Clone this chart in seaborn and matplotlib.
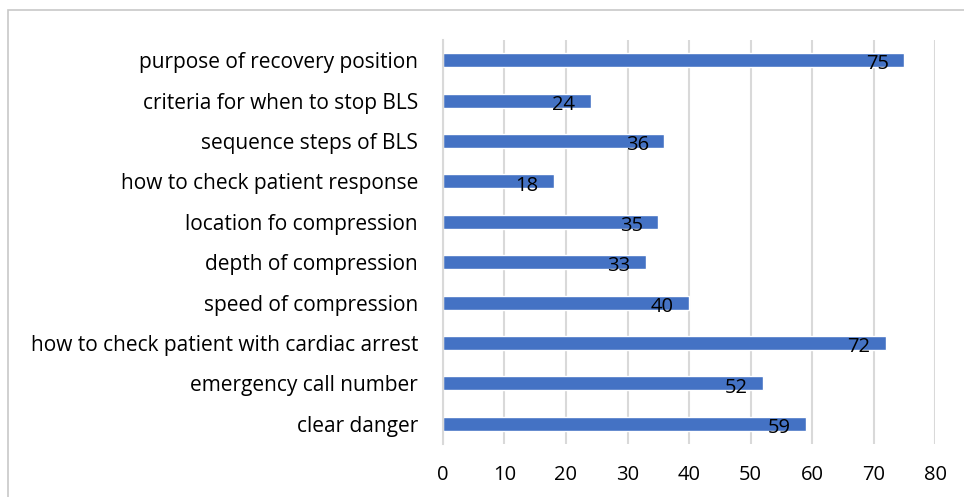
import matplotlib
matplotlib.use("Agg")
import matplotlib.pyplot as plt
import seaborn as sns
import pandas as pd
from matplotlib.patches import Rectangle

topics = [
    "purpose of recovery position",
    "criteria for when to stop BLS",
    "sequence steps of BLS",
    "how to check patient response",
    "location fo compression",
    "depth of compression",
    "speed of compression",
    "how to check patient with cardiac arrest",
    "emergency call number",
    "clear danger",
]
scores = [75, 24, 36, 18, 35, 33, 40, 72, 52, 59]
x_ticks = [0, 10, 20, 30, 40, 50, 60, 70, 80]

df = pd.DataFrame({"topic": topics, "score": scores})

sns.set_style("white")
plt.rcParams["font.family"] = ["Open Sans", "DejaVu Sans"]

fig = plt.figure(figsize=(9.64, 4.97), dpi=100)
ax = fig.add_axes([0.4595, 0.1066, 0.5105, 0.8129])

sns.barplot(data=df, x="score", y="topic", orient="h", color="#4472C4",
            width=0.35, saturation=1, ax=ax)

# value labels inside the bar end
for i, v in enumerate(scores):
    ax.annotate(str(v), xy=(v, i), xytext=(-11, -3), textcoords="offset points",
                ha="right", va="center", fontsize=14.5, color="#000000")

ax.set_xlim(0, 80)
ax.set_xticks(x_ticks)
ax.set_xlabel("")
ax.set_ylabel("")
ax.xaxis.grid(True, color="#d9d9d9", linewidth=1.5)
ax.set_axisbelow(True)
for s in ["top", "right", "bottom"]:
    ax.spines[s].set_visible(False)
ax.spines["left"].set_color("#d9d9d9")
ax.spines["left"].set_linewidth(1.5)
ax.tick_params(axis="x", length=0, pad=15, labelsize=14.5, labelcolor="#000000")
ax.tick_params(axis="y", length=0, pad=18, labelsize=15, labelcolor="#000000")

# outer frame
fig.patches.append(Rectangle((8 / 964, -0.1), 1.2, 1.1 - 10 / 497,
                             transform=fig.transFigure, fill=False,
                             edgecolor="#c8c8c8", linewidth=1.2))

fig.savefig("out.png", dpi=100)
